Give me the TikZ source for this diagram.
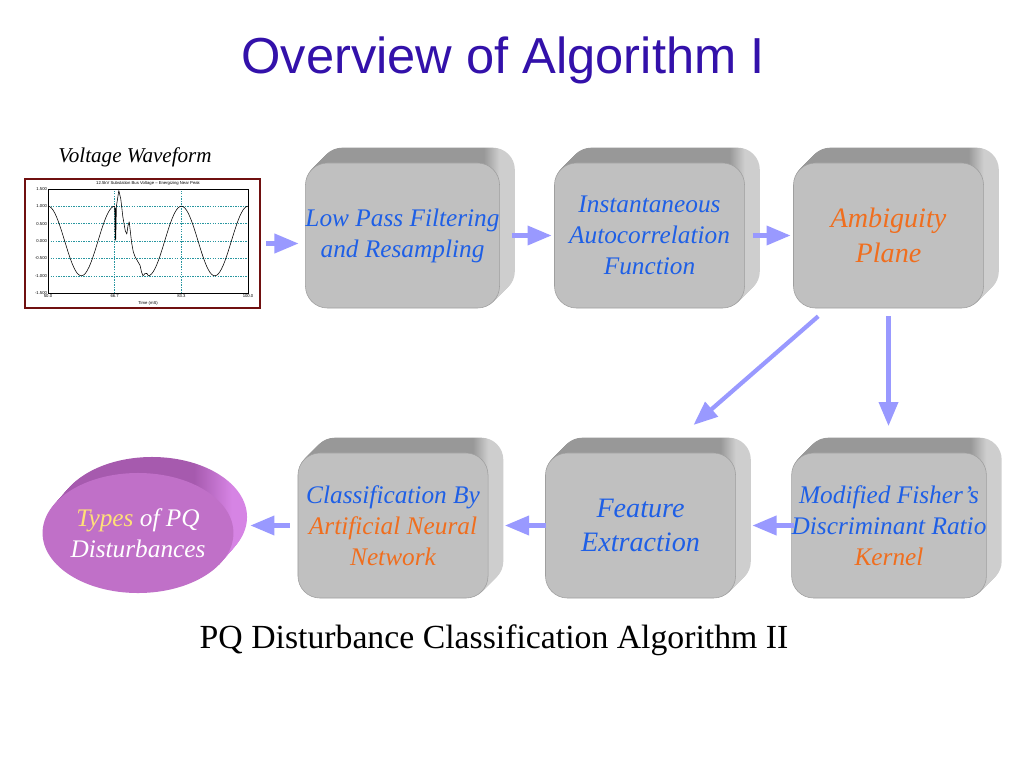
\documentclass[tikz,border=0pt]{standalone}
\usepackage{fontspec}
\setmainfont{Liberation Serif}
\setsansfont{Liberation Sans}
\usepackage{tikz}
\usetikzlibrary{arrows,shapes.geometric,backgrounds}

\definecolor{titleblue}{RGB}{51,17,170}
\definecolor{textblue}{RGB}{30,95,230}
\definecolor{textorange}{RGB}{240,110,30}
\definecolor{arrowblue}{RGB}{153,153,255}
\definecolor{boxface}{RGB}{192,192,192}
\definecolor{boxtop}{RGB}{152,152,152}
\definecolor{boxside}{RGB}{206,206,206}
\definecolor{diskface}{RGB}{192,112,200}
\definecolor{disktop}{RGB}{166,90,174}
\definecolor{diskside}{RGB}{214,132,228}
\definecolor{framered}{RGB}{112,16,16}
\definecolor{gridteal}{RGB}{40,150,160}
\definecolor{typesyellow}{RGB}{255,224,120}

% depth of the boxes: dark top, light right side
\pgfdeclarehorizontalshading{boxdepth}{100bp}{color(0bp)=(boxtop); color(25bp)=(boxtop);
  color(67bp)=(boxtop); color(71bp)=(boxside); color(100bp)=(boxside)}
\pgfdeclarehorizontalshading{diskdepth}{100bp}{color(0bp)=(disktop); color(25bp)=(disktop);
  color(61bp)=(disktop); color(71bp)=(diskside); color(100bp)=(diskside)}

\tikzset{
  block/.style={fill=boxface, draw=gray!75, rounded corners=0.55cm, minimum width=4.75cm,
    minimum height=3.625cm, inner xsep=0pt, align=center, text=textblue,
    font=\fontsize{18}{22}\selectfont\itshape},
  bigblock/.style={block, font=\fontsize{20}{24.5}\selectfont\itshape},
  disk/.style={ellipse, fill=diskface, minimum width=4.75cm, minimum height=3cm, inner sep=0pt,
    align=center, text=white, font=\fontsize{18}{22}\selectfont\itshape},
  flow/.style={arrowblue, line width=3pt, -triangle 45},
  ticklabel/.style={inner sep=0.5pt, font=\sffamily\fontsize{3}{3.5}\selectfont},
  gridline/.style={gridteal, dash pattern=on 1pt off 0.8pt, line width=0.3pt},
}

\begin{document}
\begin{tikzpicture}[x=0.025cm, y=-0.025cm]
  \useasboundingbox (0,0) rectangle (1024,768);

  % Title
  \node[font=\sffamily\fontsize{36}{40}\selectfont, text=titleblue] (title) at (503,60) {Overview of Algorithm I};

  % Voltage waveform
  \node[font=\fontsize{15}{18}\selectfont\itshape] (wavelabel) at (135,157) {Voltage Waveform};
  \node[draw=framered, line width=1.5pt, fill=white, minimum width=5.875cm, minimum height=3.225cm] (wave) at (142.5,243.5) {};
  \begin{scope}[shift={(48,241)}, x=0.1cm, y=0.87cm]
    \foreach \v in {-1,-0.5,0,0.5,1}
      \draw[gridline] (0,\v) -- (50,\v);
    \foreach \t in {16.67,33.33}
      \draw[gridline] (\t,-1.5) -- (\t,1.5);
    \draw[line width=0.3pt] (0,-1.5) rectangle (50,1.5);
    \foreach \v/\l [count=\i] in {1.5/1.500, 1/1.000, 0.5/0.500, 0/0.000, -0.5/-0.500, -1/-1.000, -1.5/-1.500}
      \node[ticklabel, left] (ytick\i) at (0,\v) {\l};
    \foreach \t/\l [count=\i] in {0/50.0, 16.67/66.7, 33.33/83.3, 50/100.0}
      \node[ticklabel, below] (xtick\i) at (\t,-1.5) {\l};
    \node[ticklabel] (timelabel) at (25,-1.78) {Time (mS)};
    \node[ticklabel] (plottitle) at (25,1.65) {12.5kV Substation Bus Voltage -- Energizing Near Peak};
    \draw[line width=0.4pt, line join=round]
      plot[domain=0:16.67, samples=40] (\x,{cos(21.6*\x)})
      -- plot coordinates {(16.78,0.0) (16.86,0.95) (16.94,0.05) (17.1,1.0) (17.7,1.45) (18.2,1.2)
        (18.7,0.7) (19.3,0.3) (19.7,0.2) (20.0,0.45) (20.3,0.55) (20.6,0.25) (20.9,-0.05)
        (21.3,-0.3) (21.75,-0.45) (22.4,-0.58) (23.0,-0.7) (23.4,-0.9) (23.75,-1.0)
        (24.2,-0.94) (24.7,-0.93) (25.1,-1.0)}
      -- plot[domain=25.5:50, samples=60] (\x,{cos(21.6*\x)});
  \end{scope}

  % Top row
  \node[block] (lpf) at (402.5,235.5) {Low Pass Filtering\\and Resampling};
  \node[block] (iaf) at (649.5,235.5) {Instantaneous\\Autocorrelation\\Function};
  \node[bigblock, text=textorange] (amb) at (888.5,235.5) {Ambiguity\\Plane};

  % Bottom row
  \node[block] (ann) at (393,525.5) {Classification By\\\textcolor{textorange}{Artificial Neural}\\\textcolor{textorange}{Network}};
  \node[bigblock] (feat) at (640.5,525.5) {Feature\\Extraction};
  \node[block] (fdr) at (889,525.5) {Modified Fisher's\\Discriminant Ratio\\\textcolor{textorange}{Kernel}};

  % Output
  \node[disk] (types) at (138,533) {\textcolor{typesyellow}{Types} of PQ\\Disturbances};

  % Depth of the boxes and the disk
  \begin{scope}[on background layer]
    \fill[white] (0,0) rectangle (1024,768);
    \foreach \n in {lpf,iaf,amb,ann,feat,fdr}
      \foreach \d in {1,...,15}
        \shade[shading=boxdepth, rounded corners=0.55cm] ([shift={(\d,-\d)}]\n.south west) rectangle ([shift={(\d,-\d)}]\n.north east);
    \foreach \d in {1,...,16}
      \shade[shading=diskdepth] ([shift={(0.875*\d,-\d)}]types.center) ellipse [x radius=2.375cm, y radius=1.5cm];
  \end{scope}

  % Arrows
  \draw[flow, shorten <=0.125cm, shorten >=0.175cm] (wave.east) -- (wave.east -| lpf.west);
  \draw[flow, shorten <=0.3cm, shorten >=0.075cm] (lpf.east) -- (iaf.west);
  \draw[flow, shorten <=0.2cm, shorten >=0.075cm] (iaf.east) -- (amb.west);
  \draw[flow] ([shift={(25,8)}]amb.south west) -- ([shift={(-42,-28)}]feat.north east);
  \draw[flow, shorten <=0.2cm, shorten >=0.675cm] (amb.south) -- (amb.south |- fdr.north);
  \draw[flow, shorten <=-0.075cm, shorten >=0.425cm] (fdr.west) -- (feat.east);
  \draw[flow, shorten <=-0.025cm, shorten >=0.425cm] (feat.west) -- (ann.east);
  \draw[flow, shorten <=0.2cm, shorten >=0.425cm] (ann.west) -- (ann.west -| types.east);

  % Caption
  \node[font=\fontsize{24}{28}\selectfont] (caption) at (494,640) {PQ Disturbance Classification Algorithm II};

\end{tikzpicture}
\end{document}
